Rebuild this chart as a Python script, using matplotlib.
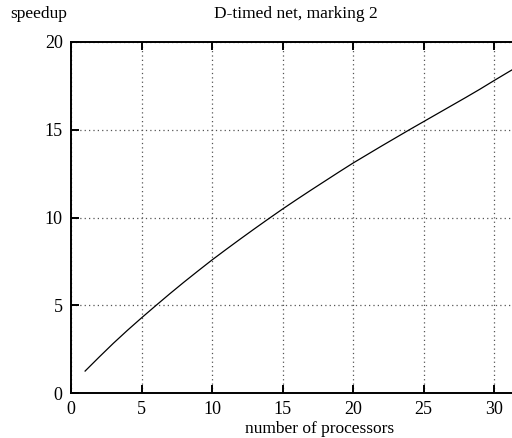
import matplotlib
matplotlib.use('agg')
import matplotlib.pyplot as plt

processors = list(range(1, 33))
speedup = [1.25, 2.05, 2.83, 3.57, 4.28, 4.97, 5.65, 6.31, 6.95, 7.58,
           8.18, 8.77, 9.35, 9.92, 10.48, 11.02, 11.55, 12.07, 12.59, 13.1,
           13.58, 14.06, 14.53, 15.0, 15.46, 15.92, 16.38, 16.84, 17.31, 17.8,
           18.28, 18.75]
xticks = [0, 5, 10, 15, 20, 25, 30]
yticks = [0, 5, 10, 15, 20]

plt.rcParams['font.family'] = ['Liberation Serif', 'DejaVu Serif']

fig = plt.figure(figsize=(5.12, 4.38), dpi=100)
W, H = 512, 438
ax = fig.add_axes([71 / W, (H - 393) / H, (W - 71) / W, (393 - 42) / H])

ax.plot(processors, speedup, color='black', lw=0.9)
ax.set_xlim(0, 441 / 14.1)
ax.set_ylim(0, 20)
ax.set_xticks(xticks)
ax.set_yticks(yticks)
ax.grid(True, linestyle=(0, (1, 2.5)), color='#555555', lw=0.9)

for side in ('left', 'bottom', 'top'):
    ax.spines[side].set_linewidth(1.4)
ax.spines['right'].set_visible(False)
ax.tick_params(direction='in', length=6, width=1.4, top=True, right=False,
               labelsize=13, pad=6, color='black')

fig.text(10 / W, 1 - 14 / H, 'speedup', fontsize=12.5, va='center', ha='left')
fig.text(296 / W, 1 - 14 / H, 'D-timed net, marking 2', fontsize=12.5,
         va='center', ha='center')
fig.text(320 / W, 1 - 429 / H, 'number of processors', fontsize=12.5,
         va='center', ha='center')

fig.savefig('out.png', dpi=100)
